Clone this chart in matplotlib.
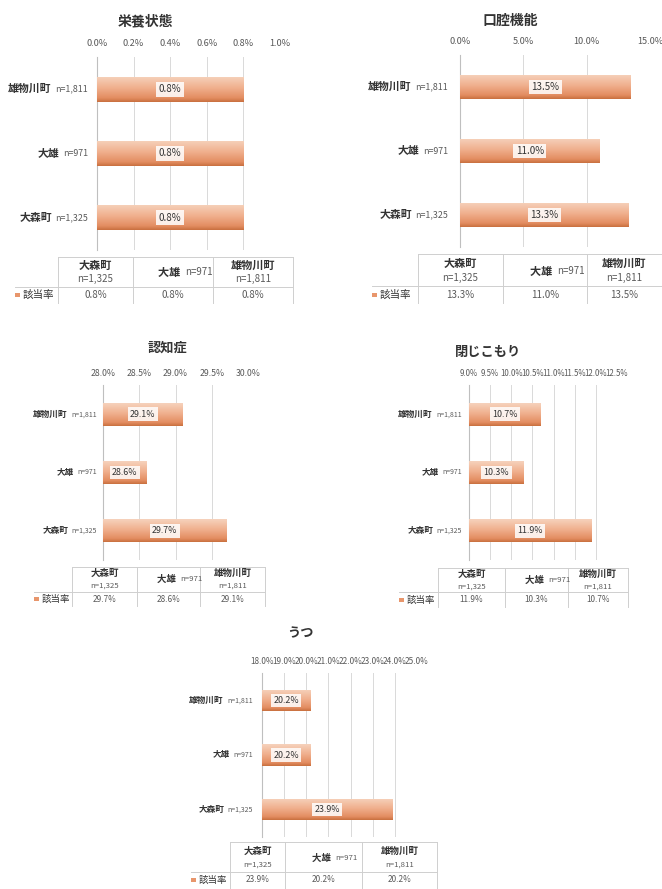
import matplotlib
matplotlib.use("Agg")
import matplotlib.pyplot as plt
from matplotlib.lines import Line2D
from matplotlib.patches import Rectangle
from matplotlib.colors import LinearSegmentedColormap
import numpy as np

plt.rcParams['font.family'] = ['Noto Sans CJK JP', 'DejaVu Sans']

# ---- data ----
areas = ['大森町', '大雄', '雄物川町']
sizes = ['n=1,325', 'n=971', 'n=1,811']
series_name = '該当率'

titles = ['栄養状態', '口腔機能', '認知症', '閉じこもり', 'うつ']
nutrition = [0.8, 0.8, 0.8]
oral = [13.3, 11.0, 13.5]
cognitive = [29.7, 28.6, 29.1]
withdrawal = [11.9, 10.3, 10.7]
depression = [23.9, 20.2, 20.2]
values = [nutrition, oral, cognitive, withdrawal, depression]

axis_min = [0.0, 0.0, 28.0, 9.0, 18.0]
axis_max = [1.0, 15.0, 30.0, 12.5, 25.0]
axis_step = [0.2, 5.0, 0.5, 0.5, 1.0]

# ---- layout (pixels, y measured from top) ----
W, H = 662, 889
fig = plt.figure(figsize=(W / 100, H / 100), dpi=100)
fig.patch.set_facecolor('white')

BIG = dict(title=10, tick=6.6, name=7.8, n=6.4, bar=7.0, th=8.0, tn=7.0, tv=7.0, leg=7.6, tickpad=6.5)
SMALL = dict(title=9.5, tick=5.8, name=6.2, n=5.0, bar=6.4, th=6.8, tn=5.6, tv=5.9, leg=6.8, tickpad=5.0)

layout = [
    dict(box=(97, 280, 57, 250), title=(145, 21), lab_pad=9, fs=BIG, tick=6.6,
         tab=dict(left=58, seps=(133, 213), right=293, top=257, mid=287, bottom=303,
                  name_y=265, n_y=279, one_y=272, val_y=295, key_x=15)),
    dict(box=(460, 650, 55, 247), title=(510, 21), lab_pad=12, fs=BIG, tick=6.6,
         tab=dict(left=418, seps=(503, 587), right=662, top=254, mid=286, bottom=303,
                  name_y=263, n_y=278, one_y=271, val_y=295, key_x=372)),
    dict(box=(103, 248, 385, 560), title=(168, 348), lab_pad=6, fs=SMALL, tick=6.3,
         tab=dict(left=72, seps=(137, 200), right=265, top=567, mid=592, bottom=606,
                  name_y=573, n_y=586, one_y=579, val_y=599, key_x=34)),
    dict(box=(469, 617, 385, 560), title=(488, 352), lab_pad=7, fs=SMALL, tick=5.7,
         tab=dict(left=438, seps=(505, 568), right=628, top=568, mid=592, bottom=607,
                  name_y=574, n_y=587, one_y=580, val_y=600, key_x=399)),
    dict(box=(262, 417, 673, 837), title=(300, 633), lab_pad=9, fs=SMALL, tick=5.9,
         tab=dict(left=230, seps=(285, 362), right=437, top=842, mid=872, bottom=889,
                  name_y=851, n_y=865, one_y=858, val_y=880, key_x=191)),
]

TXT = '#333333'
GRAY = '#595959'
GRID = '#d9d9d9'
LINE = '#cfcfcf'
BAR_BASE = '#e8966c'
bar_cmap = LinearSegmentedColormap.from_list(
    'bar', [(0.0, '#f6d2bc'), (0.45, '#f0b08e'), (0.85, '#e38d61'), (1.0, '#c9703f')])


def fx(x):
    return x / W


def fy(y):
    return 1 - y / H


def hline(x0, x1, y, color=LINE, lw=0.7):
    fig.add_artist(Line2D([fx(x0), fx(x1)], [fy(y), fy(y)], transform=fig.transFigure,
                          color=color, lw=lw))


def vline(x, y0, y1, color=LINE, lw=0.7):
    fig.add_artist(Line2D([fx(x), fx(x)], [fy(y0), fy(y1)], transform=fig.transFigure,
                          color=color, lw=lw))


for title, vals, lo, hi, step, lay in zip(titles, values, axis_min, axis_max, axis_step, layout):
    fs = lay['fs']
    x0, x1, y0, y1 = lay['box']
    ax = fig.add_axes([fx(x0), fy(y1), fx(x1) - fx(x0), fy(y0) - fy(y1)])
    ax.set_facecolor('none')

    ypos = np.arange(len(areas))
    widths = [v - lo for v in vals]
    bars = ax.barh(ypos, widths, left=lo, height=0.39, color=BAR_BASE, zorder=2)

    # vertical shading on each bar: light at the top, deeper orange at the bottom
    grad = np.linspace(0, 1, 64).reshape(-1, 1)
    for b in bars:
        bx, by = b.get_x(), b.get_y()
        im = ax.imshow(grad, cmap=bar_cmap, aspect='auto', zorder=3,
                       extent=[bx, bx + b.get_width(), by, by + b.get_height()],
                       origin='upper', interpolation='bilinear')
        im.set_clip_path(b)
    ax.set_xlim(lo, hi)
    ax.set_ylim(-0.5, len(areas) - 0.5)

    # value labels in white boxes at the bar centre
    for yi, v in zip(ypos, vals):
        ax.text((lo + v) / 2, yi, f'{v:.1f}%', ha='center', va='center', fontsize=fs['bar'],
                color=TXT, zorder=5,
                bbox=dict(boxstyle='square,pad=0.25', fc='white', ec='none', alpha=0.85))

    ticks = np.arange(lo, hi + step / 2, step)
    ax.set_xticks(ticks)
    ax.set_xticklabels([f'{t:.1f}%' for t in ticks])
    ax.xaxis.tick_top()
    ax.tick_params(axis='x', length=0, pad=fs['tickpad'], labelsize=lay['tick'], colors=GRAY)
    ax.set_yticks([])
    ax.grid(axis='x', color=GRID, lw=0.7, zorder=0)
    ax.set_axisbelow(True)
    for s in ['top', 'right', 'bottom']:
        ax.spines[s].set_visible(False)
    ax.spines['left'].set_color('#bfbfbf')
    ax.spines['left'].set_linewidth(0.8)

    # category labels: area name followed by sample size
    for yi, name, n in zip(ypos, areas, sizes):
        nt = ax.annotate(n, xy=(0, yi), xycoords=('axes fraction', 'data'),
                         xytext=(-lay['lab_pad'] * 0.72, 0), textcoords='offset points',
                         ha='right', va='center', fontsize=fs['n'], color=GRAY)
        ax.annotate(name, xy=(0, 0.5), xycoords=nt, xytext=(-2.5, 0),
                    textcoords='offset points', ha='right', va='center',
                    fontsize=fs['name'], color=TXT, fontweight='bold')

    # chart title
    tx, ty = lay['title']
    fig.text(fx(tx), fy(ty), title, ha='center', va='center', fontsize=fs['title'],
             color=TXT, fontweight='bold')

    # data table beneath the chart
    t = lay['tab']
    cols = [t['left'], *t['seps'], t['right']]
    hline(t['left'], t['right'], t['top'])
    hline(t['key_x'], t['right'], t['mid'])
    for cx in cols:
        vline(cx, t['top'], t['bottom'])
    for i, (name, n, v) in enumerate(zip(areas, sizes, vals)):
        cx = (cols[i] + cols[i + 1]) / 2
        if name == '大雄':
            fig.text(fx(cx + 12), fy(t['one_y']), n, ha='left', va='center',
                     fontsize=fs['tn'], color=GRAY)
            fig.text(fx(cx + 12), fy(t['one_y']), name + '  ', ha='right', va='center',
                     fontsize=fs['th'], color=TXT, fontweight='bold')
        else:
            fig.text(fx(cx), fy(t['name_y']), name, ha='center', va='center',
                     fontsize=fs['th'], color=TXT, fontweight='bold')
            fig.text(fx(cx), fy(t['n_y']), n, ha='center', va='center',
                     fontsize=fs['tn'], color=GRAY)
        fig.text(fx(cx), fy(t['val_y']), f'{v:.1f}%', ha='center', va='center',
                 fontsize=fs['tv'], color=GRAY)
    k = 4.5
    fig.add_artist(Rectangle((fx(t['key_x']), fy(t['val_y'] + k / 2)), k / W, k / H,
                             transform=fig.transFigure, color=BAR_BASE, lw=0))
    fig.text(fx(t['key_x'] + k + 3), fy(t['val_y']), series_name, ha='left', va='center',
             fontsize=fs['leg'], color=TXT)

fig.savefig('out.png', dpi=100, facecolor='white')
